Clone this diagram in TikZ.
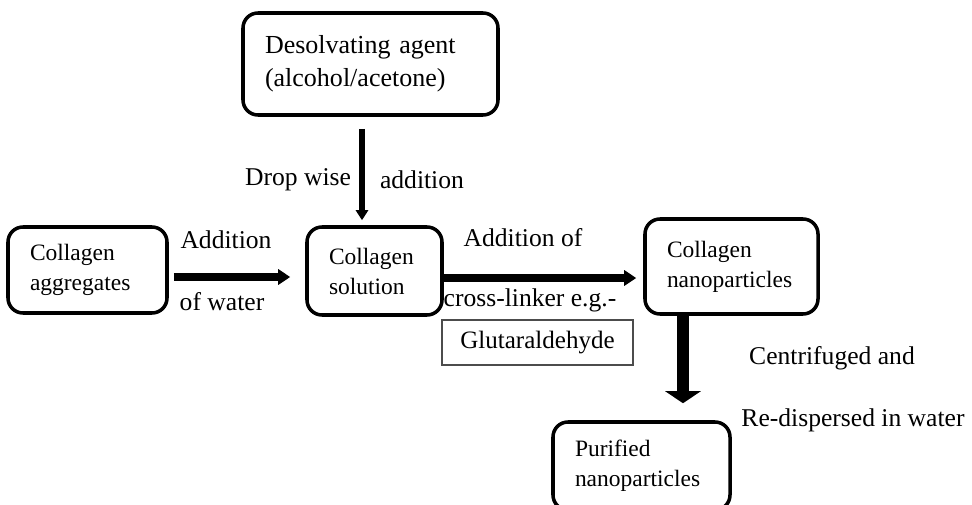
\documentclass[tikz,border=0pt]{standalone}
\usepackage{fontspec}
\setmainfont{Liberation Serif}
\usepackage{tikz}
\usetikzlibrary{positioning}
\usetikzlibrary{arrows.meta, calc}

\begin{document}
\begin{tikzpicture}[
        stagebox/.style={draw, line width=2.5pt, rounded corners=0.375cm,
            align=left, inner xsep=0.55cm, inner ysep=0pt,
            font=\fontsize{16.7}{21.3}\selectfont},
        steplabel/.style={inner sep=0pt, font=\fontsize{18.2}{21}\selectfont},
        flowarrow/.style={line width=#1}
    ]
        \useasboundingbox (0,0) rectangle (24.3,12.6);

        % boxes
        \node[stagebox, minimum width=6.375cm, minimum height=2.55cm, text width=5.275cm,
            font=\fontsize{18.5}{23.4}\selectfont] (desolv) at (9.2625,11.0)
            {Desolvating agent\\(alcohol/acetone)};
        \node[stagebox, minimum width=3.975cm, minimum height=2.15cm, text width=2.875cm]
            (aggr) at (2.1875,5.85) {Collagen\\aggregates};
        \node[stagebox, minimum width=3.375cm, minimum height=2.2cm, text width=2.275cm]
            (sol) at (9.3625,5.825) {Collagen\\solution};
        \node[stagebox, minimum width=4.325cm, minimum height=2.375cm, text width=3.225cm]
            (nano) at (18.2875,5.9375) {Collagen\\nanoparticles};
        \node[stagebox, minimum width=4.425cm, minimum height=2.2cm, text width=3.325cm]
            (pur) at (16.0375,0.95) {Purified\\nanoparticles};
        \node[draw=black!70, line width=1pt, minimum width=4.775cm, minimum height=1.125cm,
            font=\fontsize{17.8}{21}\selectfont] (glut) at (13.4375,4.0375) {Glutaraldehyde};

        % arrows
        \draw[flowarrow=4.3pt, -{Triangle[width=0.3cm, length=0.25cm]},
            shorten <=0.3cm, shorten >=0.125cm]
            ([xshift=-0.2125cm]desolv.south) -- ([xshift=-0.3125cm]sol.north);
        \draw[flowarrow=5pt, -{Triangle[width=0.375cm, length=0.3cm]},
            shorten <=0.125cm, shorten >=0.375cm]
            ([yshift=-0.175cm]aggr.east) -- ([yshift=-0.15cm]sol.west);
        \draw[flowarrow=5pt, -{Triangle[width=0.375cm, length=0.3cm]},
            shorten >=0.175cm]
            ([yshift=-0.175cm]sol.east) -- ([yshift=-0.2875cm]nano.west);
        \draw[flowarrow=8.5pt, -{Triangle[width=0.875cm, length=0.3cm]},
            shorten >=0.425cm]
            ([xshift=-1.2125cm]nano.south) -- ([xshift=1.0375cm]pur.north);

        % labels
        \node[steplabel] (dropL) at (7.45,8.1) {Drop wise};
        \node[steplabel] (dropR) at (10.55,8.1) {addition};
        \node[steplabel] (waterT) at (5.65,6.6) {Addition};
        \node[steplabel] (waterB) at (5.55,5.05) {of water};
        \node[steplabel] (linkT) at (13.075,6.65) {Addition of};
        \node[steplabel] (linkB) at (13.25,5.1) {cross-linker e.g.-};
        \node[steplabel] (spinT) at (20.8,3.65) {Centrifuged and};
        \node[steplabel] (spinB) at (21.325,2.1) {Re-dispersed in water};
    \end{tikzpicture}
\end{document}
